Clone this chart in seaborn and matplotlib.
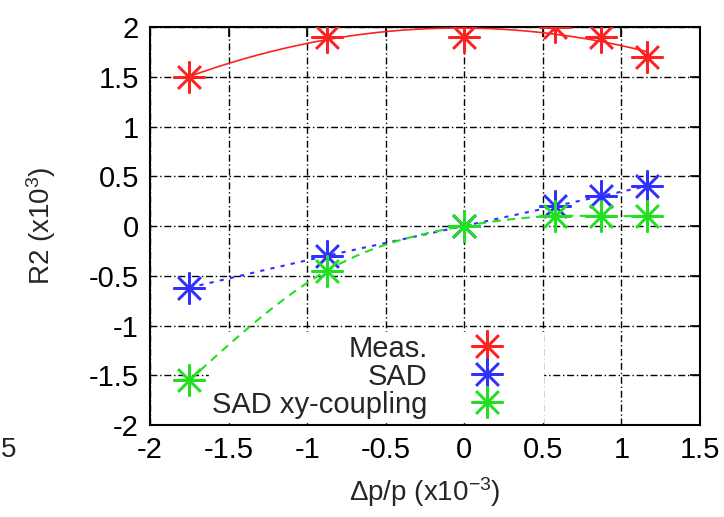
import numpy as np
import pandas as pd
import matplotlib
matplotlib.use("Agg")
import matplotlib.pyplot as plt
import seaborn as sns

# ---- data ----
dpp = [-1.75, -0.875, 0.0, 0.58, 0.87, 1.16]
r2_meas = [1.5, 1.9, 1.9, 2.0, 1.9, 1.7]
r2_sad = [-0.62, -0.3, 0.0, 0.2, 0.3, 0.4]
r2_sad_xy = [-1.55, -0.45, 0.0, 0.1, 0.1, 0.1]
series_names = ["Meas.", "SAD", "SAD xy-coupling"]
x_ticks = [-2, -1.5, -1, -0.5, 0, 0.5, 1, 1.5]
y_ticks = [-2, -1.5, -1, -0.5, 0, 0.5, 1, 1.5, 2]

sns.set_theme(style="white")
plt.rcParams["font.family"] = ["Liberation Sans", "DejaVu Sans"]
plt.rcParams["mathtext.fontset"] = "custom"
plt.rcParams["mathtext.rm"] = "Liberation Sans"
plt.rcParams["mathtext.it"] = "Liberation Sans"


def natural_spline(x, y, xs):
    x = np.asarray(x, float)
    y = np.asarray(y, float)
    n = len(x)
    h = np.diff(x)
    A = np.zeros((n, n))
    b = np.zeros(n)
    A[0, 0] = A[-1, -1] = 1
    for i in range(1, n - 1):
        A[i, i - 1] = h[i - 1]
        A[i, i] = 2 * (h[i - 1] + h[i])
        A[i, i + 1] = h[i]
        b[i] = 6 * ((y[i + 1] - y[i]) / h[i] - (y[i] - y[i - 1]) / h[i - 1])
    M = np.linalg.solve(A, b)
    out = np.empty_like(xs)
    for k, xv in enumerate(xs):
        i = min(np.searchsorted(x, xv) - 1, n - 2)
        i = max(i, 0)
        t1 = x[i + 1] - xv
        t0 = xv - x[i]
        out[k] = (M[i] * t1 ** 3 / (6 * h[i]) + M[i + 1] * t0 ** 3 / (6 * h[i])
                  + (y[i] / h[i] - M[i] * h[i] / 6) * t1
                  + (y[i + 1] / h[i] - M[i + 1] * h[i] / 6) * t0)
    return out


xs = np.linspace(dpp[0], dpp[-1], 300)
red_fit = np.polyval(np.polyfit(dpp, r2_meas, 2), xs)
blue_fit = natural_spline(dpp, r2_sad, xs)
green_fit = natural_spline(dpp, r2_sad_xy, xs)

colors = ["#ff2020", "#3030ff", "#20e020"]

fig = plt.figure(figsize=(7.24, 5.17), dpi=100)
ax = fig.add_axes([150 / 724, 1 - 425 / 517, 550 / 724, 398 / 517])

# fitted / smoothed curves
sns.lineplot(x=xs, y=red_fit, ax=ax, color=colors[0], lw=1.2, linestyle="-", zorder=3)
sns.lineplot(x=xs, y=blue_fit, ax=ax, color=colors[1], lw=1.5, linestyle=(0, (2, 3)), zorder=3)
sns.lineplot(x=xs, y=green_fit, ax=ax, color=colors[2], lw=1.5, linestyle=(0, (4, 3)), zorder=3)

# data points
df = pd.DataFrame({
    "x": dpp * 3,
    "y": r2_meas + r2_sad + r2_sad_xy,
    "series": [series_names[0]] * 6 + [series_names[1]] * 6 + [series_names[2]] * 6,
})
star = (8, 2, 0)
for name, c in zip(series_names, colors):
    sub = df[df["series"] == name]
    ax.plot(sub["x"], sub["y"], linestyle="none", marker=star, markersize=23,
            markeredgewidth=1.8, color=c, label=name, zorder=4)

ax.set_xlim(-2, 1.5)
ax.set_ylim(-2, 2)
ax.set_xticks(x_ticks)
ax.set_yticks(y_ticks)
ax.set_xticklabels([f"{v:g}" for v in x_ticks])
ax.set_yticklabels([f"{v:g}" for v in y_ticks])
ax.tick_params(direction="in", length=7, width=1.2, labelsize=21, colors="black",
               top=True, right=True, pad=8)
ax.grid(True, color="black", linestyle=(0, (5, 2, 1, 2)), linewidth=1.0, zorder=0.5)
ax.set_axisbelow(True)
for s in ax.spines.values():
    s.set_color("black")
    s.set_linewidth(1.5)

ax.set_xlabel("Δp/p (x10$^{-3}$)", fontsize=20, labelpad=8)
ax.set_ylabel("R2 (x10$^{3}$)", fontsize=20, labelpad=22)

leg = ax.legend(loc="lower left", bbox_to_anchor=(0.105, 0.005), markerfirst=False,
                frameon=True, fontsize=21, handlelength=3.6, handletextpad=0.25,
                labelspacing=0.0, borderpad=0.1, borderaxespad=0.05, fancybox=False)
leg.get_frame().set_facecolor("white")
leg.get_frame().set_edgecolor("white")
leg.get_frame().set_alpha(1)
leg.set_zorder(2)

fig.text(0.001, 1 - 450 / 517, "5", fontsize=20, va="center", ha="left")

fig.savefig("out.png", dpi=100)
